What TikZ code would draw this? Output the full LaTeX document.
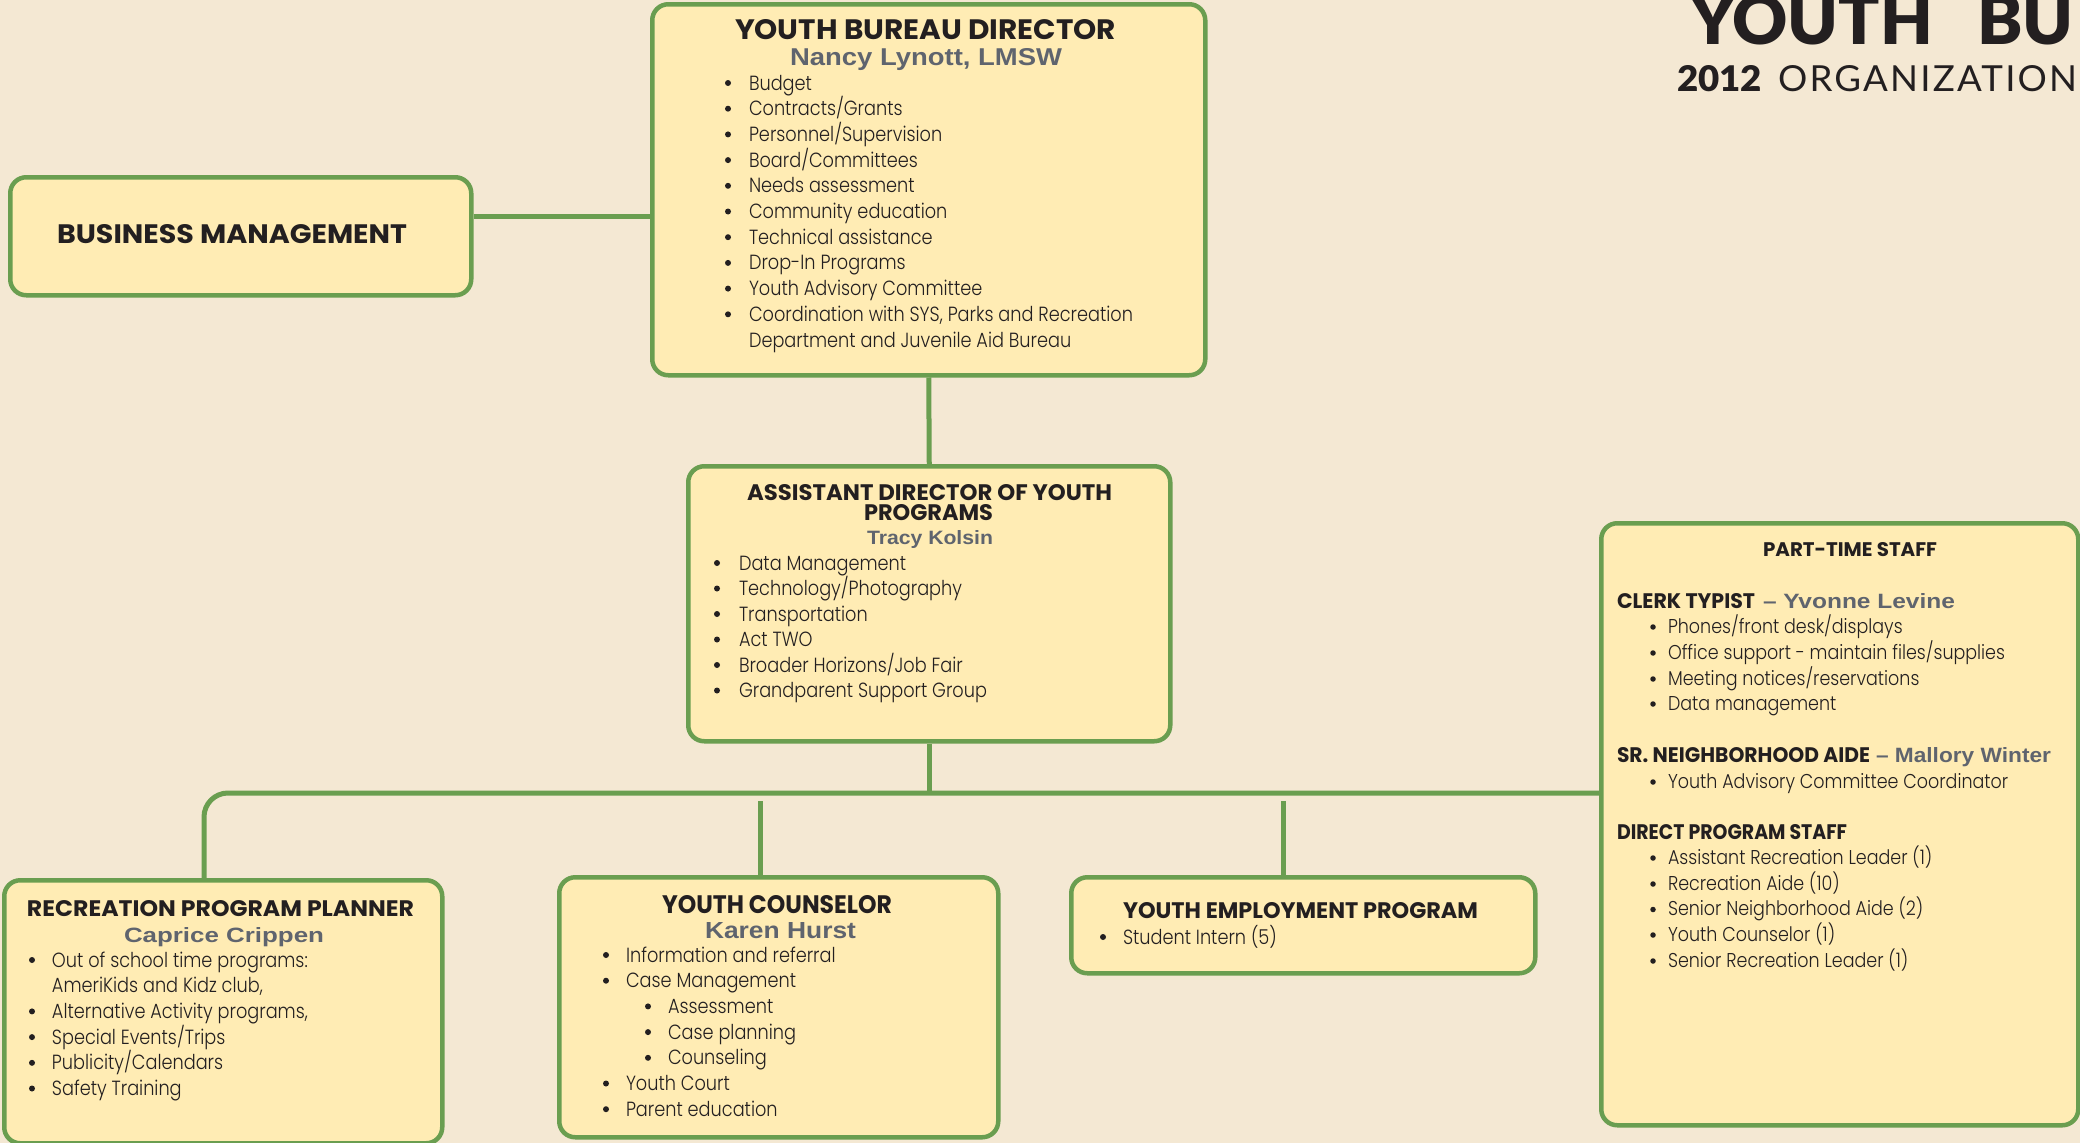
\documentclass[tikz,border=0pt]{standalone}
\usepackage{fontspec}
\usepackage{graphicx}
\setmainfont{Poppins}
\IfFontExistsTF{Poppins Light}{\newfontfamily\bodyf{Poppins Light}}{\newfontfamily\bodyf{Poppins}}
\newfontfamily\headf{Poppins}
\newfontfamily\namef{Liberation Sans}
\IfFontExistsTF{Lato Black}{\newfontfamily\titleb{Lato Black}}{\newfontfamily\titleb{Lato}[FakeBold=2]}
\newfontfamily\titlef{Lato}
\newfontfamily\titlesp{Lato}[LetterSpace=6]
\definecolor{bg}{RGB}{244,232,211}
\definecolor{boxfill}{RGB}{255,236,180}
\definecolor{grn}{RGB}{106,158,80}
\definecolor{ink}{RGB}{35,31,32}
\definecolor{namegray}{RGB}{95,100,110}
\newsavebox\measbox
\newlength\measlen
\tikzset{
  orgbox/.style={draw=grn, line width=4.5pt, fill=boxfill, rounded corners=16pt,
    inner sep=0pt, anchor=north west},
  link/.style={draw=grn, line width=5pt},
  txt/.style={inner sep=0pt, outer sep=0pt, anchor=base west, text=ink},
  nm/.style={txt, text=namegray},
  bodyA/.style={txt, font=\bodyf\fontsize{20.5}{24}\selectfont},
  bodyB/.style={txt, font=\bodyf\fontsize{20}{24}\selectfont},
  dotA/.style={circle, fill=ink, inner sep=0pt, minimum size=6pt},
  dotB/.style={circle, fill=ink, inner sep=0pt, minimum size=5.5pt},
}
% heading: name, x, baseline, width, cap height, text
\newcommand\hd[6]{\node[txt] (#1) at (#2,#3) {\resizebox{#4pt}{#5pt}{\headf\bfseries #6}};}
\newcommand\nmt[6]{\node[nm] (#1) at (#2,#3) {\resizebox{#4pt}{#5pt}{\namef\bfseries #6}};}
% bullet line: name, bullet centre x, text x, baseline, text
\newcommand\la[5]{\node[dotA] (#1b) at (#2,#4-7) {}; \node[bodyA] (#1) at (#3,#4) {\scalebox{\rA}[1]{#5}};}
\newcommand\lac[4]{\node[bodyA] (#1) at (#2,#3) {\scalebox{\rA}[1]{#4}};}
\newcommand\lb[5]{\node[dotB] (#1b) at (#2,#4-6) {}; \node[bodyB] (#1) at (#3,#4) {\scalebox{\rB}[1]{#5}};}
\begin{document}%
\sbox\measbox{\bodyf\fontsize{20.5}{24}\selectfont Coordination with SYS, Parks and Recreation}%
\setlength\measlen{\wd\measbox}%
\pgfmathsetmacro\rA{384/\measlen}%
\sbox\measbox{\bodyf\fontsize{20}{24}\selectfont Office support - maintain files/supplies}%
\setlength\measlen{\wd\measbox}%
\pgfmathsetmacro\rB{337/\measlen}%
\sbox\measbox{\titleb\fontsize{100}{100}\selectfont YOUTH}%
\setlength\measlen{\wd\measbox}%
\pgfmathsetmacro\tsz{243/\measlen*100}%
\begin{tikzpicture}[x=1pt,y=-1pt]
\fill[bg] (0,0) rectangle (2080,1143);
\useasboundingbox (0,0) rectangle (2080,1143);

% connectors
\coordinate (bmy) at (0,216);
\coordinate (bus) at (0,793);
\coordinate (recx) at (204,0);
\coordinate (ycx) at (760,801);
\coordinate (yepx) at (1283,801);

% boxes
\node[orgbox, minimum width=553pt, minimum height=371pt] (dir) at (650,2) {};
\node[orgbox, minimum width=461pt, minimum height=118pt] (bm) at (8,175) {};
\node[orgbox, minimum width=482pt, minimum height=275pt] (ad) at (686,464) {};
\node[orgbox, minimum width=438pt, minimum height=263pt] (rec) at (2,878) {};
\node[orgbox, minimum width=439pt, minimum height=260pt] (yc) at (557,875) {};
\node[orgbox, minimum width=464pt, minimum height=96pt] (yep) at (1069,875) {};
\node[orgbox, minimum width=477pt, minimum height=602pt] (pt) at (1599,521) {};

\draw[link] (bm.east |- bmy) -- (dir.west |- bmy);
\draw[link] (dir.south) -- (ad.north);
\draw[link] (ad.south) -- (ad.south |- bus);
\draw[link, rounded corners=24pt] (rec.north -| recx) |- (pt.west |- bus);
\draw[link] (ycx) -- (ycx |- yc.north);
\draw[link] (yepx) -- (yepx |- yep.north);

% page title
\node[txt, font=\titleb\fontsize{\tsz}{\tsz}\selectfont] (t1) at (1690,44) {YOUTH};
\node[txt, font=\titleb\fontsize{\tsz}{\tsz}\selectfont] (t2) at (1977,44) {BU};
\node[txt] (t3) at (1677,91) {\resizebox{85pt}{26pt}{\titleb 2012}};
\node[txt] (t4) at (1778,91) {\resizebox{299pt}{26pt}{\titlesp ORGANIZATION}};

% director
\hd{dirT}{735}{39}{381}{20}{YOUTH BUREAU DIRECTOR}
\nmt{dirN}{790}{65}{272}{17}{Nancy Lynott, LMSW}
\la{d1}{728}{749}{90}{Budget}
\la{d2}{728}{749}{115.7}{Contracts/Grants}
\la{d3}{728}{749}{141.4}{Personnel/Supervision}
\la{d4}{728}{749}{167.1}{Board/Committees}
\la{d5}{728}{749}{192.8}{Needs assessment}
\la{d6}{728}{749}{218.5}{Community education}
\la{d7}{728}{749}{244.2}{Technical assistance}
\la{d8}{728}{749}{269.9}{Drop-In Programs}
\la{d9}{728}{749}{295.6}{Youth Advisory Committee}
\la{d10}{728}{749}{321.3}{Coordination with SYS, Parks and Recreation}
\lac{d11}{749}{347}{Department and Juvenile Aid Bureau}

% business management
\hd{bmT}{57}{243}{350}{19}{BUSINESS MANAGEMENT}

% assistant director
\hd{adT1}{747}{500}{365}{16}{ASSISTANT DIRECTOR OF YOUTH}
\hd{adT2}{864}{520}{129}{16}{PROGRAMS}
\nmt{adN}{867}{544}{126}{14}{Tracy Kolsin}
\la{a1}{717}{739}{570}{Data Management}
\la{a2}{717}{739}{595.5}{Technology/Photography}
\la{a3}{717}{739}{621}{Transportation}
\la{a4}{717}{739}{646.5}{Act TWO}
\la{a5}{717}{739}{672}{Broader Horizons/Job Fair}
\la{a6}{717}{739}{697.5}{Grandparent Support Group}

% recreation program planner
\hd{recT}{27}{916}{387}{16}{RECREATION PROGRAM PLANNER}
\nmt{recN}{124}{942}{200}{15}{Caprice Crippen}
\la{r1}{32}{52}{967}{Out of school time programs:}
\lac{r2}{52}{992.7}{AmeriKids and Kidz club,}
\la{r3}{32}{52}{1018.4}{Alternative Activity programs,}
\la{r4}{32}{52}{1044.1}{Special Events/Trips}
\la{r5}{32}{52}{1069.8}{Publicity/Calendars}
\la{r6}{32}{52}{1095.5}{Safety Training}

% youth counselor
\hd{ycT}{662}{913}{230}{18}{YOUTH COUNSELOR}
\nmt{ycN}{705}{938}{151}{16}{Karen Hurst}
\la{c1}{606}{626}{962}{Information and referral}
\la{c2}{606}{626}{987.7}{Case Management}
\la{c3}{648}{668}{1013.4}{Assessment}
\la{c4}{648}{668}{1039.1}{Case planning}
\la{c5}{648}{668}{1064.8}{Counseling}
\la{c6}{606}{626}{1090.5}{Youth Court}
\la{c7}{606}{626}{1116.2}{Parent education}

% youth employment program
\hd{yepT}{1123}{918}{355}{16}{YOUTH EMPLOYMENT PROGRAM}
\la{e1}{1103}{1123}{944}{Student Intern (5)}

% part-time staff
\hd{ptT}{1763}{556}{174}{14}{PART-TIME STAFF}
\hd{ptH1}{1617}{608}{138}{15}{CLERK TYPIST}
\nmt{ptN1}{1763}{608}{192}{15}{– Yvonne Levine}
\lb{p1}{1653}{1668}{633}{Phones/front desk/displays}
\lb{p2}{1653}{1668}{659}{Office support - maintain files/supplies}
\lb{p3}{1653}{1668}{685}{Meeting notices/reservations}
\lb{p4}{1653}{1668}{710}{Data management}
\hd{ptH2}{1617}{762}{253}{15}{SR. NEIGHBORHOOD AIDE}
\nmt{ptN2}{1876}{762}{175}{15}{– Mallory Winter}
\lb{p5}{1653}{1668}{788}{Youth Advisory Committee Coordinator}
\hd{ptH3}{1617}{839}{230}{15}{DIRECT PROGRAM STAFF}
\lb{p6}{1653}{1668}{864}{Assistant Recreation Leader (1)}
\lb{p7}{1653}{1668}{890}{Recreation Aide (10)}
\lb{p8}{1653}{1668}{915.5}{Senior Neighborhood Aide (2)}
\lb{p9}{1653}{1668}{941}{Youth Counselor (1)}
\lb{p10}{1653}{1668}{967}{Senior Recreation Leader (1)}
\end{tikzpicture}
\end{document}
